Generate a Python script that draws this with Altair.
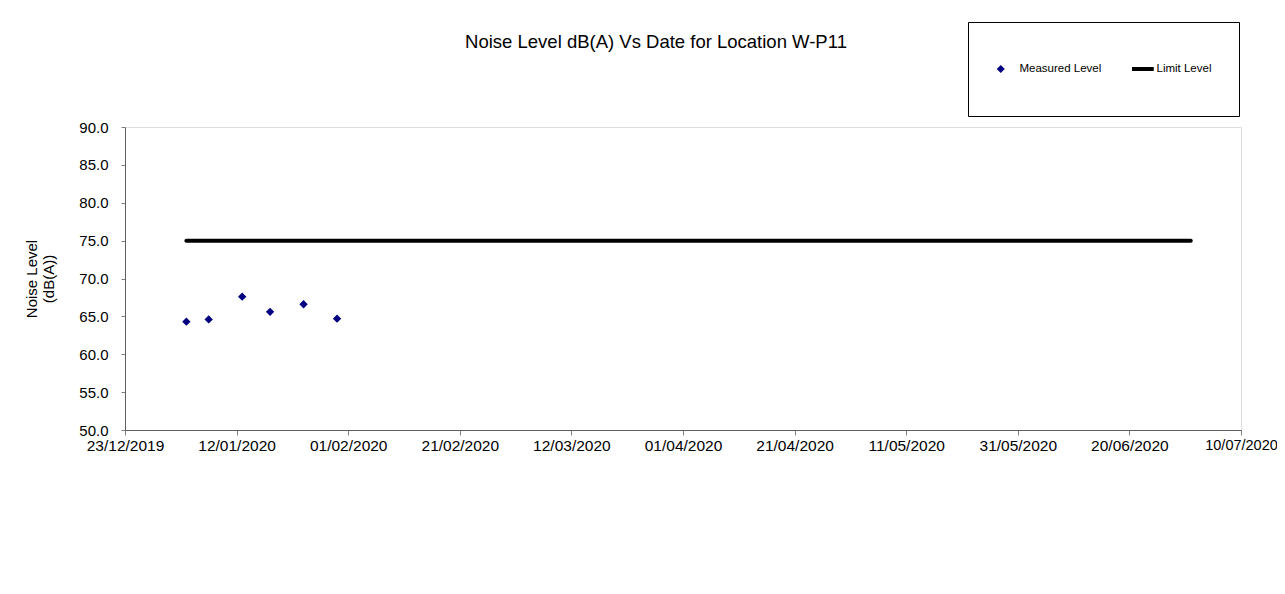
import altair as alt
import pandas as pd

# ---- data ----
measured_dates = ["2020-01-03", "2020-01-07", "2020-01-13", "2020-01-18", "2020-01-24", "2020-01-30"]
measured_values = [64.3, 64.6, 67.6, 65.6, 66.6, 64.7]

limit_dates = ["2020-01-03", "2020-07-01"]
limit_values = [75.0, 75.0]

series_names = ["Measured Level", "Limit Level"]
title_text = "Noise Level dB(A) Vs Date for Location W-P11"
y_title = ["Noise Level", "(dB(A))"]
y_ticks = [50, 55, 60, 65, 70, 75, 80, 85, 90]
x_tick_days = [(2019, 12, 23), (2020, 1, 12), (2020, 2, 1), (2020, 2, 21), (2020, 3, 12),
               (2020, 4, 1), (2020, 4, 21), (2020, 5, 11), (2020, 5, 31), (2020, 6, 20),
               (2020, 7, 10)]

FONT = "Liberation Sans"

measured = pd.DataFrame({"date": measured_dates, "value": measured_values,
                         "series": series_names[0]})
limit = pd.DataFrame({"date": limit_dates, "value": limit_values,
                      "series": series_names[1]})

def dt(t):
    return alt.DateTime(year=t[0], month=t[1], date=t[2], utc=True)

x_scale = alt.Scale(type="utc", domain=[dt(x_tick_days[0]), dt(x_tick_days[-1])], nice=False)
y_scale = alt.Scale(domain=[50, 90], nice=False, zero=False)

x_enc = alt.X("date:T", scale=x_scale, title=None,
              axis=alt.Axis(values=[dt(t) for t in x_tick_days],
                            labelExpr="utcFormat(datum.value, '%d/%m/%Y')",
                            labelFontSize=alt.condition(
                                "utcyear(datum.value) == 2020 && utcmonth(datum.value) == 6",
                                alt.value(14.5), alt.value(15.5)),
                            labelFont=FONT,
                            labelColor="#000000", tickSize=5, tickColor="#808080",
                            domainColor="#606060", grid=False, labelPadding=3,
                            labelFlush=False, labelOverlap=False))
y_enc = alt.Y("value:Q", scale=y_scale, title=y_title,
              axis=alt.Axis(values=y_ticks, format=".1f", labelFontSize=15, labelFont=FONT,
                            labelColor="#000000", tickSize=4, tickColor="#808080",
                            domainColor="#606060", grid=False, labelPadding=13,
                            titleFont=FONT, titleFontSize=15, titleFontWeight="normal",
                            titleColor="#000000", titlePadding=22, titleLineHeight=17))

limit_line = alt.Chart(limit).mark_line(color="#000000", strokeWidth=4, strokeCap="round").encode(
    x=x_enc, y=y_enc)

legend = alt.Legend(title=None, orient="none", legendX=843, legendY=-105,
                    direction="horizontal", columns=2,
                    labelFont=FONT, labelFontSize=11.5, labelColor="#000000",
                    symbolSize=64, labelOffset=13, columnPadding=30,
                    padding=27, clipHeight=40,
                    strokeColor="#000000", fillColor="#ffffff",
                    symbolStrokeWidth=0)

points = alt.Chart(measured).mark_point(filled=True, size=70, opacity=1).encode(
    x=x_enc, y=y_enc,
    color=alt.Color("series:N",
                    scale=alt.Scale(domain=series_names, range=["#000080", "#000000"]),
                    legend=legend),
    shape=alt.Shape("series:N",
                    scale=alt.Scale(domain=series_names,
                                    range=["diamond", "M-3.75,-0.5H4V0.5H-3.75Z"]),
                    legend=legend),
)

chart = alt.layer(limit_line, points).properties(
    width=1116, height=303,
    title=alt.TitleParams(title_text, font=FONT, fontSize=18.5, fontWeight="normal",
                          color="#000000", offset=0, dy=49, frame="group",
                          baseline="bottom", anchor="middle", dx=-27),
    padding={"left": 117, "top": 119, "right": 36, "bottom": 150},
    autosize=alt.AutoSizeParams(type="none"),
).configure_view(stroke="#808080", strokeWidth=1).configure(background="#ffffff")

chart.save("out.html", embed_options={"renderer": "svg", "actions": False})
